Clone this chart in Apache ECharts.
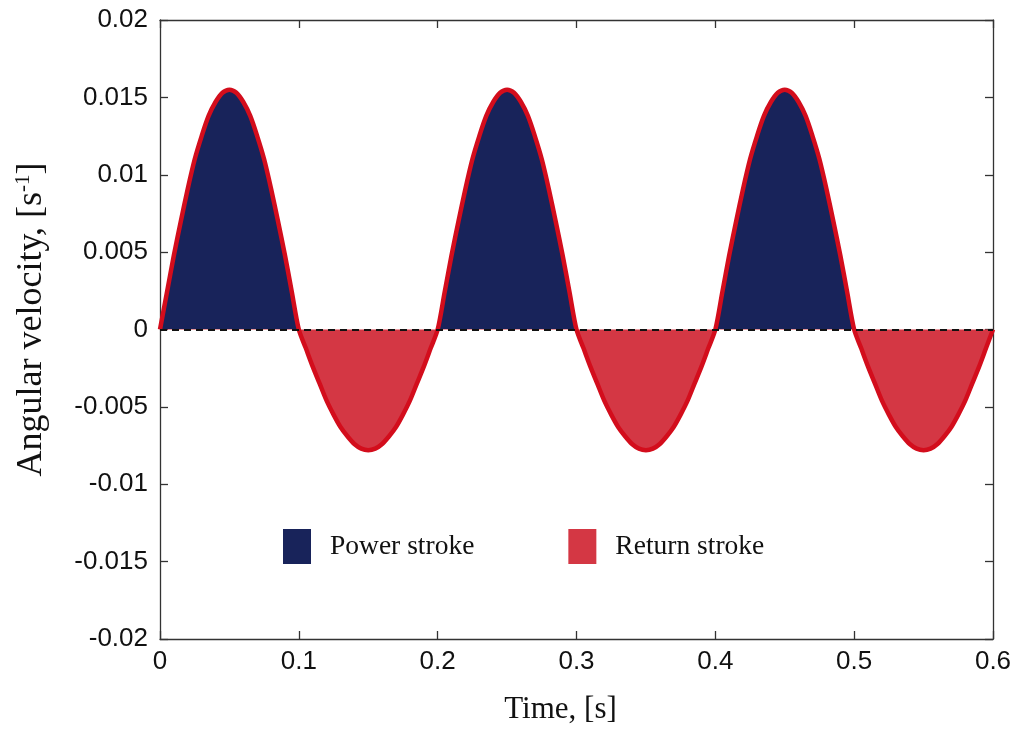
<!DOCTYPE html>
<html>
<head>
<meta charset="utf-8">
<script src="https://cdn.jsdelivr.net/npm/echarts@6/dist/echarts.min.js"></script>
<style>
  html, body { margin: 0; padding: 0; background: #fff; }
  #chart { width: 1030px; height: 730px; }
</style>
</head>
<body>
<div id="chart"></div>
<script>
// time samples, [s]
const time = [
  0, 0.005, 0.01, 0.015, 0.02, 0.025, 0.03, 0.035, 0.04, 0.045,
  0.05, 0.055, 0.06, 0.065, 0.07, 0.075, 0.08, 0.085, 0.09, 0.095,
  0.1, 0.105, 0.11, 0.115, 0.12, 0.125, 0.13, 0.135, 0.14, 0.145,
  0.15, 0.155, 0.16, 0.165, 0.17, 0.175, 0.18, 0.185, 0.19, 0.195,
  0.2, 0.205, 0.21, 0.215, 0.22, 0.225, 0.23, 0.235, 0.24, 0.245,
  0.25, 0.255, 0.26, 0.265, 0.27, 0.275, 0.28, 0.285, 0.29, 0.295,
  0.3, 0.305, 0.31, 0.315, 0.32, 0.325, 0.33, 0.335, 0.34, 0.345,
  0.35, 0.355, 0.36, 0.365, 0.37, 0.375, 0.38, 0.385, 0.39, 0.395,
  0.4, 0.405, 0.41, 0.415, 0.42, 0.425, 0.43, 0.435, 0.44, 0.445,
  0.45, 0.455, 0.46, 0.465, 0.47, 0.475, 0.48, 0.485, 0.49, 0.495,
  0.5, 0.505, 0.51, 0.515, 0.52, 0.525, 0.53, 0.535, 0.54, 0.545,
  0.55, 0.555, 0.56, 0.565, 0.57, 0.575, 0.58, 0.585, 0.59, 0.595,
  0.6
]

// angular velocity, [1/s]
const velocity = [
  0, 0.0024, 0.0048, 0.0070, 0.0091, 0.0110, 0.0125, 0.0138, 0.0147, 0.0153,
  0.0155, 0.0153, 0.0147, 0.0138, 0.0125, 0.0110, 0.0091, 0.0070, 0.0048, 0.0024,
  0, -0.0012, -0.0024, -0.0035, -0.0046, -0.0055, -0.0063, -0.0069, -0.0074, -0.0077,
  -0.0078, -0.0077, -0.0074, -0.0069, -0.0063, -0.0055, -0.0046, -0.0035, -0.0024, -0.0012,
  0, 0.0024, 0.0048, 0.0070, 0.0091, 0.0110, 0.0125, 0.0138, 0.0147, 0.0153,
  0.0155, 0.0153, 0.0147, 0.0138, 0.0125, 0.0110, 0.0091, 0.0070, 0.0048, 0.0024,
  0, -0.0012, -0.0024, -0.0035, -0.0046, -0.0055, -0.0063, -0.0069, -0.0074, -0.0077,
  -0.0078, -0.0077, -0.0074, -0.0069, -0.0063, -0.0055, -0.0046, -0.0035, -0.0024, -0.0012,
  0, 0.0024, 0.0048, 0.0070, 0.0091, 0.0110, 0.0125, 0.0138, 0.0147, 0.0153,
  0.0155, 0.0153, 0.0147, 0.0138, 0.0125, 0.0110, 0.0091, 0.0070, 0.0048, 0.0024,
  0, -0.0012, -0.0024, -0.0035, -0.0046, -0.0055, -0.0063, -0.0069, -0.0074, -0.0077,
  -0.0078, -0.0077, -0.0074, -0.0069, -0.0063, -0.0055, -0.0046, -0.0035, -0.0024, -0.0012,
  0
]

const legendNames = ['Power stroke', 'Return stroke']

const NAVY = '#18235a'
const RED_FILL = '#d43744'
const RED_LINE = '#d30d1c'
const AXIS = '#333'

const chart = echarts.init(document.getElementById('chart'))

const sans = 'Liberation Sans, Arial, sans-serif'
const serif = 'Liberation Serif, Times New Roman, serif'

const baseAxis = {
  axisLine: { show: true, onZero: false, lineStyle: { color: AXIS, width: 1.3 } },
  axisTick: { show: true, inside: true, length: 8, lineStyle: { color: AXIS, width: 1.3 } },
  splitLine: { show: false }
}

const option = {
  animation: false,
  backgroundColor: '#fff',
  grid: { left: 160, right: 37, top: 20, bottom: 90 },
  legend: {
    data: legendNames,
    left: 278,
    top: 524,
    icon: 'rect',
    itemWidth: 28,
    itemHeight: 35,
    itemGap: 94,
    selectedMode: false,
    textStyle: { fontFamily: serif, fontSize: 27.5, color: '#111', padding: [0, 0, 0, 14] }
  },
  xAxis: [
    Object.assign({}, baseAxis, {
      type: 'value', min: 0, max: 0.6, interval: 0.1,
      position: 'bottom',
      axisLabel: { fontFamily: sans, fontSize: 26, color: '#111', margin: 10 },
      name: 'Time, [s]',
      nameLocation: 'middle',
      nameGap: 55,
      nameTextStyle: { fontFamily: serif, fontSize: 31, color: '#111', padding: [0, 32, 0, 0] }
    }),
    Object.assign({}, baseAxis, {
      type: 'value', min: 0, max: 0.6, interval: 0.1,
      position: 'top',
      axisLabel: { show: false }
    })
  ],
  yAxis: [
    Object.assign({}, baseAxis, {
      type: 'value', min: -0.02, max: 0.02, interval: 0.005,
      position: 'left',
      axisLabel: { fontFamily: sans, fontSize: 26, color: '#111', margin: 12 },
      name: 'Angular velocity, [s{sup|-1}]',
      nameLocation: 'middle',
      nameRotate: 90,
      nameGap: 110,
      nameTextStyle: {
        fontFamily: serif, fontSize: 36, color: '#111', padding: [0, 0, 0, 20],
        rich: { sup: { fontFamily: serif, fontSize: 21, color: '#111', verticalAlign: 'top', padding: [0, 0, 16, 0] } }
      }
    }),
    Object.assign({}, baseAxis, {
      type: 'value', min: -0.02, max: 0.02, interval: 0.005,
      position: 'right',
      axisLabel: { show: false }
    })
  ],
  visualMap: {
    type: 'piecewise',
    show: false,
    seriesIndex: 0,
    dimension: 1,
    pieces: [
      { gt: 0, lte: 0.02, color: NAVY },
      { gte: -0.02, lte: 0, color: RED_FILL }
    ]
  },
  series: [
    {
      name: 'velocity',
      type: 'line',
      data: time.map((t, i) => [t, velocity[i]]),
      smooth: 0.3,
      symbol: 'none',
      lineStyle: { color: RED_LINE, width: 4.5 },
      areaStyle: { opacity: 1 },
      z: 2,
      markLine: {
        silent: true,
        symbol: 'none',
        label: { show: false },
        lineStyle: { color: '#111', type: [7, 5], width: 2 },
        data: [{ yAxis: 0 }]
      }
    },
    { name: legendNames[0], type: 'line', data: [], itemStyle: { color: NAVY } },
    { name: legendNames[1], type: 'line', data: [], itemStyle: { color: RED_FILL } }
  ]
}

chart.setOption(option)
</script>
</body>
</html>
